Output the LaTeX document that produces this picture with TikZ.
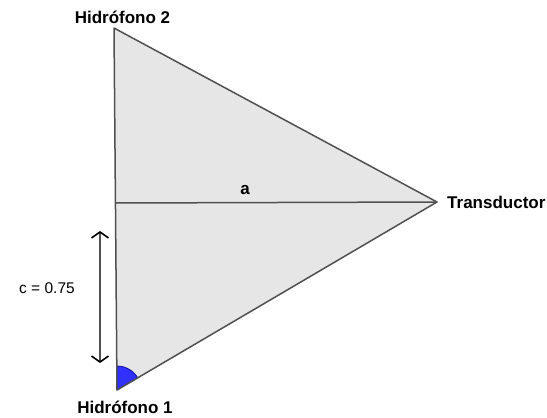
\documentclass[tikz,border=0pt]{standalone}
\usepackage{fontspec}
\setmainfont{Liberation Sans}
\usetikzlibrary{arrows.meta}
\definecolor{edge}{HTML}{505050}
\definecolor{tri}{HTML}{E6E6E6}
\definecolor{sect}{HTML}{3030FF}
\definecolor{sectb}{HTML}{1010A0}
\tikzset{
  vlabel/.style={inner sep=0pt, font=\fontsize{17}{20}\selectfont\bfseries},
  plainlabel/.style={inner sep=0pt, font=\fontsize{15.5}{18}\selectfont},
  side/.style={draw=edge, line width=1.5pt, line join=round},
  dimline/.style={draw=edge, line width=1.4pt,
    {Straight Barb[length=6pt,width=17pt,sep=4pt,color=black,line width=1.6pt]}-{Straight Barb[length=6pt,width=17pt,sep=4pt,color=black,line width=1.6pt]}}
}
\begin{document}
\begin{tikzpicture}[x=1pt,y=-1pt]
\useasboundingbox (0,0) rectangle (547,418);
\coordinate (H2) at (114,28);
\coordinate (T) at (437,202);
\coordinate (H1) at (117,390);
\coordinate (M) at (115.5,203);
\fill[tri] (H2) -- (T) -- (H1) -- cycle;
\fill[sect, draw=sectb, line width=0.8pt] (H1) -- ++(30.4:24pt) arc[start angle=30.4, end angle=90, radius=24pt] -- cycle;
\draw[side] (H2) -- (T) -- (H1) -- cycle;
\draw[side] (M) -- (T);
\coordinate (ctop) at (100,227);
\coordinate (cbot) at (100,367);
\draw[dimline] (ctop) -- (cbot);
\node[vlabel, anchor=base] (l2) at (122.5,23) {Hidrófono 2};
\node[vlabel, anchor=base] (l1) at (125,413) {Hidrófono 1};
\node[vlabel, anchor=base west] (lt) at (447,208) {Transductor};
\node[plainlabel, anchor=base west] (lc) at (19,293) {c = 0.75};
\node[vlabel, anchor=base] (la) at (245,194) {a};
\end{tikzpicture}
\end{document}
